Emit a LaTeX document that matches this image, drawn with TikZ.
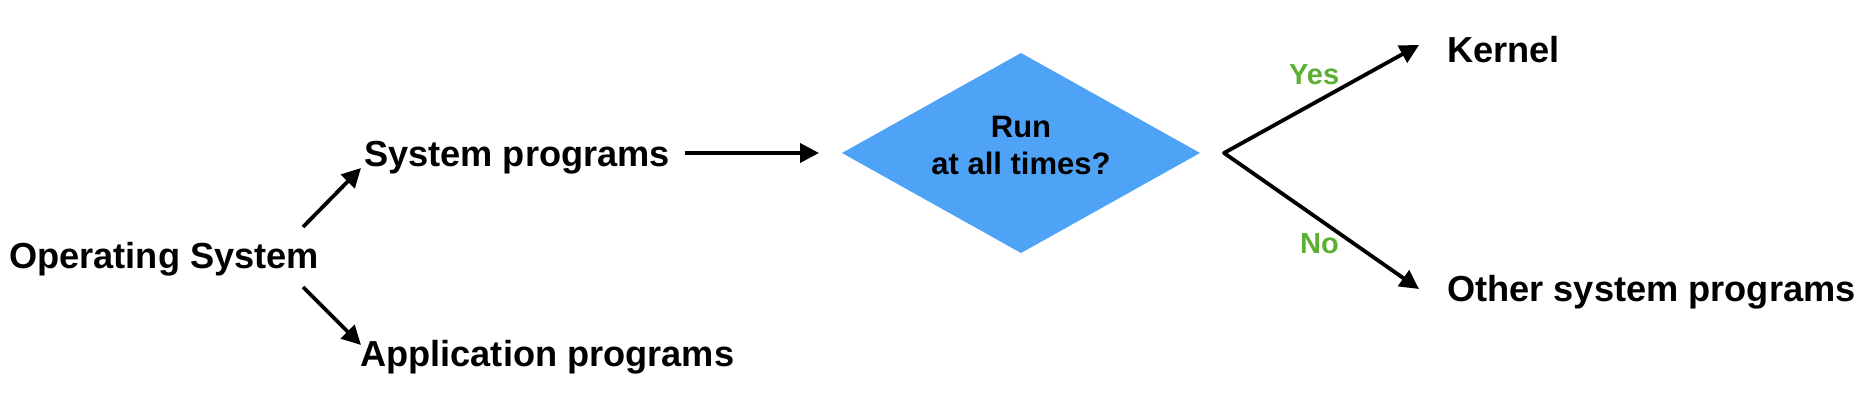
\documentclass[tikz,border=0pt]{standalone}
\usepackage{fontspec}
\setmainfont{Liberation Sans}
\usetikzlibrary{arrows.meta,shapes.geometric}
\definecolor{diablue}{HTML}{4FA3F7}
\definecolor{yesgreen}{HTML}{5BB034}
\begin{document}
\begin{tikzpicture}[x=1pt,y=1pt,
  lbl/.style={inner sep=0pt, anchor=base west, font=\fontsize{36.2}{43}\selectfont\bfseries},
  ans/.style={inner sep=0pt, anchor=base west, text=yesgreen, font=\fontsize{29}{35}\selectfont\bfseries},
  qtext/.style={inner sep=0pt, align=center, font=\fontsize{31}{37}\selectfont\bfseries},
  tip/.style={},
  arr/.style={line width=3.8pt, -{Triangle[length=19pt,width=19pt]}},
  twoarr/.style={line width=3.8pt, line join=round, {Triangle[length=19pt,width=19pt]}-{Triangle[length=19pt,width=19pt]}},
  decision/.style={diamond, fill=diablue, inner sep=0pt, outer sep=0pt, minimum width=358pt, minimum height=200pt, aspect=1.79}]
\useasboundingbox (0,0) rectangle (1868,-414);

% text nodes
\node[lbl] (os)   at (9,-268)   {Operating System};
\node[lbl] (sp)   at (364,-167) {System programs};
\node[lbl] (ap)   at (360,-366) {Application programs};
\node[lbl] (kern) at (1447,-63)  {Kernel};
\node[lbl] (osp)  at (1447,-301) {Other system programs};

% decision
\node[decision] (dia) at (1021,-153) {};
\node[qtext] (q) at (1021,-145) {Run\\at all times?};

% answers
\node[ans] (yes) at (1289,-85)  {Yes};
\node[ans] (no)  at (1300,-253) {No};

% connector end points
\coordinate (osUp)   at (303,-227);
\coordinate (spIn)   at (361,-168);
\coordinate (osDown) at (303,-287);
\coordinate (apIn)   at (361,-345);
\coordinate (spOut)  at (685,-153);
\coordinate (diaIn)  at (819,-153);
\coordinate (fork)   at (1224,-153);
\coordinate (kernIn) at (1419,-45);
\coordinate (ospIn)  at (1419,-289);

% connectors
\draw[arr] (osUp) -- (spIn);
\draw[arr] (osDown) -- (apIn);
\draw[arr] (spOut) -- (diaIn);
\draw[twoarr] (kernIn) -- (fork) -- (ospIn);
\end{tikzpicture}
\end{document}
